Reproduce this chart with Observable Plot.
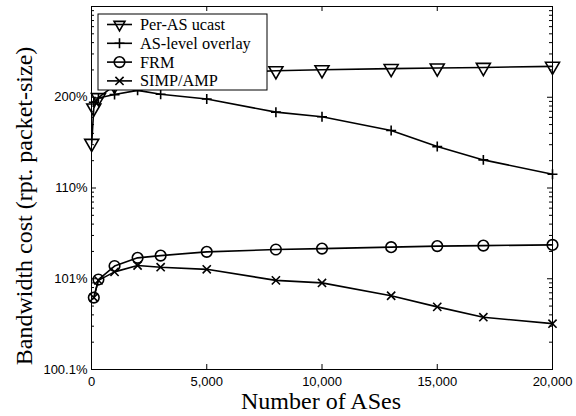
<!DOCTYPE html>
<html>
<head>
<meta charset="utf-8">
<script src="https://cdn.jsdelivr.net/npm/d3@7"></script>
<script src="https://cdn.jsdelivr.net/npm/@observablehq/plot@0.6"></script>
<style>
  html, body { margin: 0; padding: 0; background: white; }
  svg text.serif { font-family: "Liberation Serif", "DejaVu Serif", serif !important; }
  svg text.sans { font-family: "Liberation Sans", Arial, Helvetica, sans-serif !important; }
</style>
</head>
<body>
<div id="chart"></div>
<script>
// Data: x = number of ASes; values = bandwidth overhead in % above 100% (log scale)
const xPerAS = [10, 100, 300, 1000, 2000, 3000, 5000, 8000, 10000, 13000, 15000, 17000, 20000];
const xOthers = [100, 300, 1000, 2000, 3000, 5000, 8000, 10000, 13000, 15000, 17000, 20000];
const perASUcast = [31, 76, 99, 135, 150, 165, 182, 196, 201, 207, 210, 213, 219];
const asLevelOverlay = [88, 98, 107, 119, 108, 95.5, 68.5, 61, 43, 28.6, 20.4, 14.2];
const frm = [0.62, 0.98, 1.38, 1.70, 1.80, 1.98, 2.10, 2.15, 2.23, 2.29, 2.32, 2.36];
const simpAmp = [0.62, 0.96, 1.19, 1.40, 1.34, 1.27, 0.96, 0.90, 0.65, 0.49, 0.377, 0.32];
const seriesNames = ["Per-AS ucast", "AS-level overlay", "FRM", "SIMP/AMP"];
const xTicks = [0, 5000, 10000, 15000, 20000];
const yTicks = [0.1, 1, 10, 100];

const W = 576, H = 416;
const mL = 91, mR = 24, mT = 6, mB = 47;
const pw = W - mL - mR, ph = H - mT - mB;

const rows = (xs, ys) => xs.map((x, i) => ({x, y: ys[i]}));
const dPer = rows(xPerAS, perASUcast);
const dOver = rows(xOthers, asLevelOverlay);
const dFrm = rows(xOthers, frm);
const dSimp = rows(xOthers, simpAmp);

const yMinor = [];
for (const d of yTicks) for (let k = 2; k <= 9; k++) yMinor.push(+(d * k).toPrecision(3));

const lineOpts = {x: "x", y: "y", stroke: "black", strokeWidth: 1.6};

const plot = Plot.plot({
  width: W, height: H,
  marginLeft: mL, marginRight: mR, marginTop: mT, marginBottom: mB,
  style: {fontSize: "13px", background: "white", color: "black"},
  x: {domain: [0, 20000], label: null},
  y: {type: "log", domain: [0.1, 1000], label: null},
  marks: [
    // inward ticks on all four sides
    Plot.tickY(yTicks, {y: d => d, insetRight: pw - 5, stroke: "black"}),
    Plot.tickY(yTicks, {y: d => d, insetLeft: pw - 5, stroke: "black"}),
    Plot.tickY(yMinor, {y: d => d, insetRight: pw - 3, stroke: "black"}),
    Plot.tickY(yMinor, {y: d => d, insetLeft: pw - 3, stroke: "black"}),
    Plot.tickX(xTicks, {x: d => d, insetTop: ph - 5, stroke: "black"}),
    Plot.tickX(xTicks, {x: d => d, insetBottom: ph - 5, stroke: "black"}),
    Plot.axisX(xTicks, {tickFormat: d3.format(","), tickSize: 0, tickPadding: 7, label: null, fontSize: 13}),
    Plot.axisY(yTicks, {tickFormat: d => `${+(100 + d).toFixed(1)}%`, tickSize: 0, tickPadding: 4, label: null, fontSize: 13}),
    Plot.line(dPer, lineOpts),
    Plot.line(dOver, lineOpts),
    Plot.line(dFrm, lineOpts),
    Plot.line(dSimp, lineOpts),
    Plot.dot(dPer, {x: "x", y: "y", symbol: "triangle", rotate: 180, r: 5.2, stroke: "black", fill: "none", strokeWidth: 1.6}),
    Plot.dot(dOver, {x: "x", y: "y", symbol: "plus", r: 3.3, stroke: "black", strokeWidth: 1.6}),
    Plot.dot(dFrm, {x: "x", y: "y", symbol: "circle", r: 5.3, stroke: "black", fill: "none", strokeWidth: 1.6}),
    Plot.dot(dSimp, {x: "x", y: "y", symbol: "times", r: 3.8, stroke: "black", strokeWidth: 1.6}),
    Plot.frame({stroke: "black", strokeWidth: 1})
  ]
});

const svg = d3.select(plot);
svg.selectAll("text").classed("sans", true);

// Legend
const lg = svg.append("g");
const lx = 98, ly = 14, lw = 169, lh = 76;
lg.append("rect").attr("x", lx).attr("y", ly).attr("width", lw).attr("height", lh)
  .attr("fill", "white").attr("stroke", "black").attr("stroke-width", 1);
const syms = [
  {type: d3.symbolTriangle2, size: Math.PI * 5.2 * 5.2, rot: 180},
  {type: d3.symbolPlus, size: Math.PI * 3.3 * 3.3, rot: 0},
  {type: d3.symbolCircle, size: Math.PI * 5.3 * 5.3, rot: 0},
  {type: d3.symbolTimes, size: Math.PI * 3.8 * 3.8, rot: 0}
];
seriesNames.forEach((name, i) => {
  const y = 24.5 + i * 18.8;
  lg.append("line").attr("x1", 107).attr("x2", 132).attr("y1", y).attr("y2", y)
    .attr("stroke", "black").attr("stroke-width", 1.6);
  lg.append("path").attr("d", d3.symbol(syms[i].type, syms[i].size)())
    .attr("transform", `translate(119.5,${y}) rotate(${syms[i].rot})`)
    .attr("fill", "none").attr("stroke", "black").attr("stroke-width", 1.6);
  lg.append("text").attr("class", "serif").attr("x", 140).attr("y", y + 5.5).text(name)
    .style("font-size", "16.3px").style("text-anchor", "start").style("fill", "black");
});

// Axis titles
svg.append("text").attr("class", "serif").attr("x", 321).attr("y", 409).text("Number of ASes")
  .style("text-anchor", "middle").style("font-size", "24px").style("fill", "black");
svg.append("text").attr("class", "serif").attr("transform", "translate(32,206) rotate(-90)").text("Bandwidth cost (rpt. packet-size)")
  .style("text-anchor", "middle").style("font-size", "24px").style("fill", "black");

document.getElementById("chart").appendChild(plot);
</script>
</body>
</html>
